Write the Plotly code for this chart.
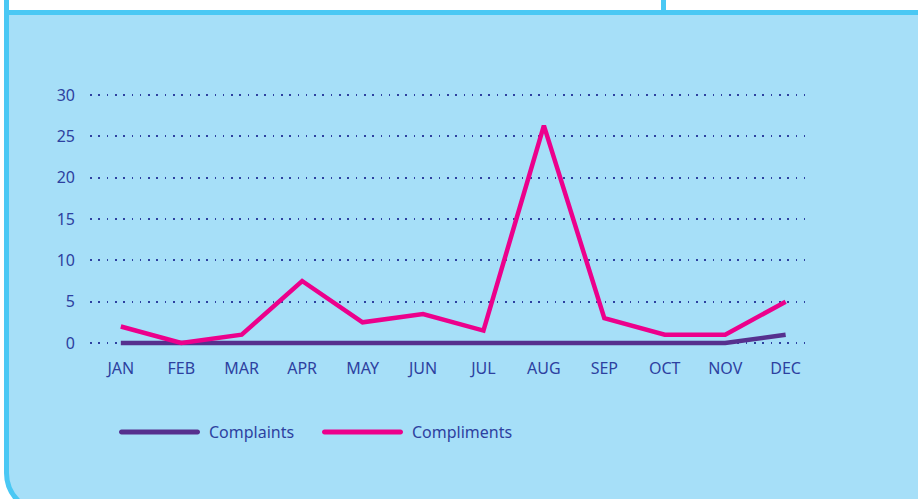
import plotly.graph_objects as go

months = ["JAN", "FEB", "MAR", "APR", "MAY", "JUN", "JUL", "AUG", "SEP", "OCT", "NOV", "DEC"]
complaints = [0, 0, 0, 0, 0, 0, 0, 0, 0, 0, 0, 1]
compliments = [2, 0, 1, 7.5, 2.5, 3.5, 1.5, 26.3, 3, 1, 1, 5]
series_names = ["Complaints", "Compliments"]
series_colors = ["#56308e", "#ec008c"]
y_ticks = [0, 5, 10, 15, 20, 25, 30]

W, H = 918, 499
L, R, T, B = 90, 808, 80, 350  # plot area in pixels
TEXT = "#2d41a0"
FONT = "Noto Sans"


def px(x):
    return (x - L) / (R - L)


def py(y):
    return (B - y) / (B - T)


fig = go.Figure()
for name, vals, col in zip(series_names, [complaints, compliments], series_colors):
    fig.add_trace(go.Scatter(
        x=list(range(len(months))), y=vals, mode="lines", name=name,
        line=dict(color=col, width=4.5), showlegend=False,
    ))

shapes = []
# panel with rounded bottom-left corner
x0, y0, x1, y1, r = 6.5, 12.5, 940, 512, 39
k = 0.5523 * r
path = (f"M {px(x0)},{py(y0)} L {px(x1)},{py(y0)} L {px(x1)},{py(y1)} "
        f"L {px(x0 + r)},{py(y1)} "
        f"C {px(x0 + r - k)},{py(y1)} {px(x0)},{py(y1 - r + k)} {px(x0)},{py(y1 - r)} Z")
shapes.append(dict(type="path", path=path, xref="paper", yref="paper",
                   fillcolor="#a6dff8", line=dict(color="#4ac8f4", width=5), layer="below"))
# border lines in top strip
for xx in [6.5, 663.5]:
    shapes.append(dict(type="line", xref="paper", yref="paper",
                       x0=px(xx), x1=px(xx), y0=py(-2), y1=py(y0),
                       line=dict(color="#4ac8f4", width=5), layer="below"))


def stadium(xa, xb, yc, h):
    rr = h / 2
    kk = 0.5523 * rr
    return (f"M {px(xa + rr)},{py(yc - rr)} L {px(xb - rr)},{py(yc - rr)} "
            f"C {px(xb - rr + kk)},{py(yc - rr)} {px(xb)},{py(yc - kk)} {px(xb)},{py(yc)} "
            f"C {px(xb)},{py(yc + kk)} {px(xb - rr + kk)},{py(yc + rr)} {px(xb - rr)},{py(yc + rr)} "
            f"L {px(xa + rr)},{py(yc + rr)} "
            f"C {px(xa + rr - kk)},{py(yc + rr)} {px(xa)},{py(yc + kk)} {px(xa)},{py(yc)} "
            f"C {px(xa)},{py(yc - kk)} {px(xa + rr - kk)},{py(yc - rr)} {px(xa + rr)},{py(yc - rr)} Z")


annotations = []
legend_x = [119, 322]
for i, (name, col) in enumerate(zip(series_names, series_colors)):
    lx = legend_x[i]
    shapes.append(dict(type="path", xref="paper", yref="paper",
                       path=stadium(lx, lx + 81, 432, 5),
                       fillcolor=col, line=dict(width=0)))
    annotations.append(dict(text=name, xref="paper", yref="paper",
                            x=px(lx + 88), y=py(432), xanchor="left", yanchor="middle",
                            showarrow=False, font=dict(family=FONT, size=16, color=TEXT)))

fig.update_layout(
    width=W, height=H,
    margin=dict(l=L, r=W - R, t=T, b=H - B, pad=0),
    paper_bgcolor="white",
    plot_bgcolor="rgba(0,0,0,0)",
    shapes=shapes,
    annotations=annotations,
    font=dict(family=FONT, size=16, color=TEXT),
)
fig.update_xaxes(
    range=[-0.51, 11.37], tickmode="array", tickvals=list(range(len(months))), ticktext=months,
    showgrid=False, zeroline=False, showline=False, ticks="", ticklabelstandoff=7,
    tickfont=dict(family=FONT, size=16, color=TEXT),
)
fig.update_yaxes(
    range=[(B - 343) / -8.267, (343 - T) / 8.267], tickmode="array", tickvals=y_ticks,
    showgrid=True, gridcolor=TEXT, gridwidth=1.6, griddash="1.6px,6.7px",
    zeroline=False, showline=False, ticks="", ticklabelstandoff=14,
    tickfont=dict(family=FONT, size=16, color=TEXT),
)

fig.write_html("out.html", config={"displayModeBar": False},
               post_script="document.body.style.margin='0';document.body.style.overflow='hidden';")
